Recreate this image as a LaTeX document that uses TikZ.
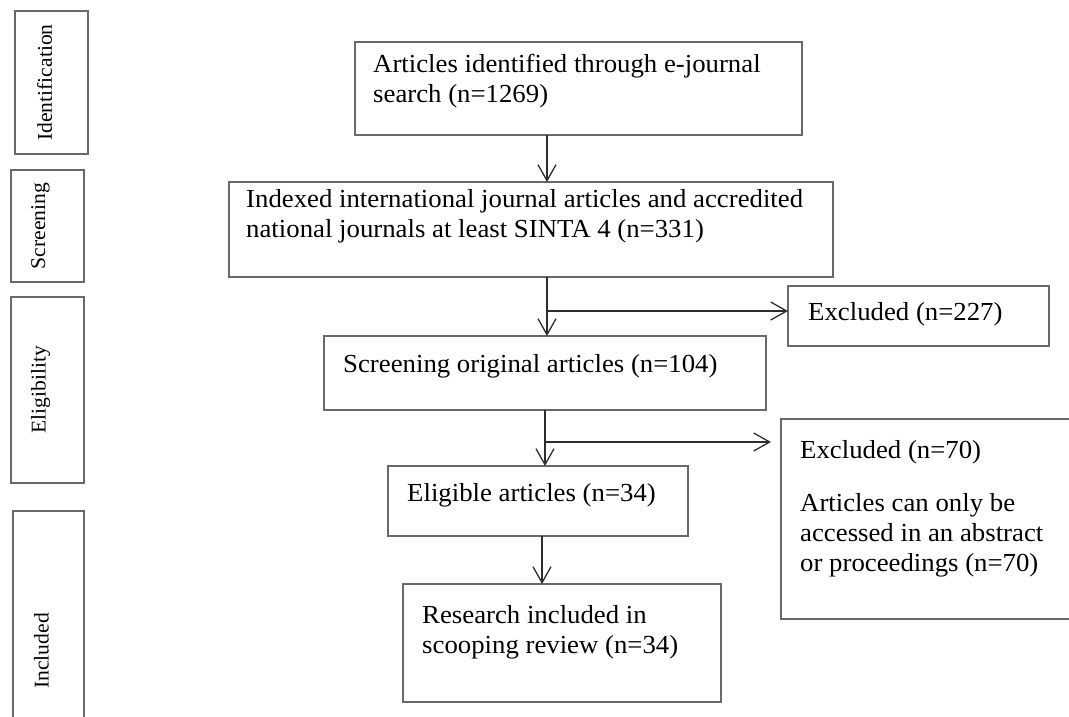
\documentclass[tikz,border=0pt]{standalone}
\usepackage{fontspec}
\setmainfont{Liberation Serif}[FakeStretch=1.03]
\usetikzlibrary{arrows.meta}
\definecolor{edgegray}{RGB}{105,105,105}
\definecolor{arrowgray}{RGB}{45,45,45}
\tikzset{
  flowbox/.style={draw=edgegray, line width=1.3pt, anchor=north west, inner sep=0pt, outer sep=0pt},
  stagebox/.style={draw=edgegray, line width=1.3pt, anchor=north west, inner sep=0pt, outer sep=0pt},
  stagetext/.style={rotate=90, inner sep=0pt, font=\fontsize{21}{24}\selectfont},
  flowtext/.style={anchor=north west, inner sep=0pt, align=left, font=\fontsize{26}{30}\selectfont, execute at begin node=\strut},
  flow/.style={draw=arrowgray, line width=1.3pt, -{Straight Barb[length=16pt,width=18pt]}},
}
\begin{document}
\begin{tikzpicture}[x=1pt, y=-1pt]
\useasboundingbox (0,0) rectangle (1069,716);
% stages
\node[stagebox, minimum width=73pt, minimum height=143pt] (ident) at (15,11) {};
\node[stagebox, minimum width=73pt, minimum height=112pt] (screen) at (11,170) {};
\node[stagebox, minimum width=73pt, minimum height=186pt] (elig) at (11,297) {};
\node[stagebox, minimum width=71pt, minimum height=280pt] (incl) at (13,511) {};
\node[stagetext] (tident) at ([xshift=-7pt]ident.center) {Identification};
\node[stagetext] (tscreen) at ([xshift=-7pt]screen.center) {Screening};
\node[stagetext] (telig) at ([xshift=-7pt]elig.center) {Eligibility};
\node[stagetext] (tincl) at ([xshift=-7pt]incl.center) {Included};
% boxes
\node[flowbox, minimum width=447pt, minimum height=93pt] (b1) at (355,42) {};
\node[flowbox, minimum width=604pt, minimum height=95pt] (b2) at (229,182) {};
\node[flowbox, minimum width=261pt, minimum height=60pt] (e1) at (788,286) {};
\node[flowbox, minimum width=442pt, minimum height=74pt] (b3) at (324,336) {};
\node[flowbox, minimum width=300pt, minimum height=200pt] (e2) at (781,419) {};
\node[flowbox, minimum width=300pt, minimum height=70pt] (b4) at (388,466) {};
\node[flowbox, minimum width=318pt, minimum height=118pt] (b5) at (403,584) {};
% texts
\node[flowtext] (t1) at ([shift={(18,12)}]b1.north west) {Articles identified through e-journal\\search (n=1269)};
\node[flowtext] (t2) at ([shift={(17,7)}]b2.north west) {Indexed international journal articles and accredited\\national journals at least SINTA 4 (n=331)};
\node[flowtext] (te1) at ([shift={(20,13)}]e1.north west) {Excluded (n=227)};
\node[flowtext] (t3) at ([shift={(19,15)}]b3.north west) {Screening original articles (n=104)};
\node[flowtext] (te2) at ([shift={(19,21)}]e2.north west) {Excluded (n=70)\\[23pt]Articles can only be\\accessed in an abstract\\or proceedings (n=70)};
\node[flowtext] (t4) at ([shift={(19,14)}]b4.north west) {Eligible articles (n=34)};
\node[flowtext] (t5) at ([shift={(19,21)}]b5.north west) {Research included in\\scooping review (n=34)};
% arrows
\coordinate (j1) at (547,311);
\coordinate (j2) at (545,442);
\coordinate (j3) at (542,560);
\draw[flow] (b1.south -| j1) -- (b2.north -| j1);
\draw[flow] (b2.south -| j1) -- (b3.north -| j1);
\draw[flow] (j1) -- (j1 -| e1.west);
\draw[flow] (b3.south -| j2) -- (b4.north -| j2);
\draw[flow, shorten >=10pt] (j2) -- (j2 -| e2.west);
\draw[flow] (b4.south -| j3) -- (b5.north -| j3);
\end{tikzpicture}
\end{document}
